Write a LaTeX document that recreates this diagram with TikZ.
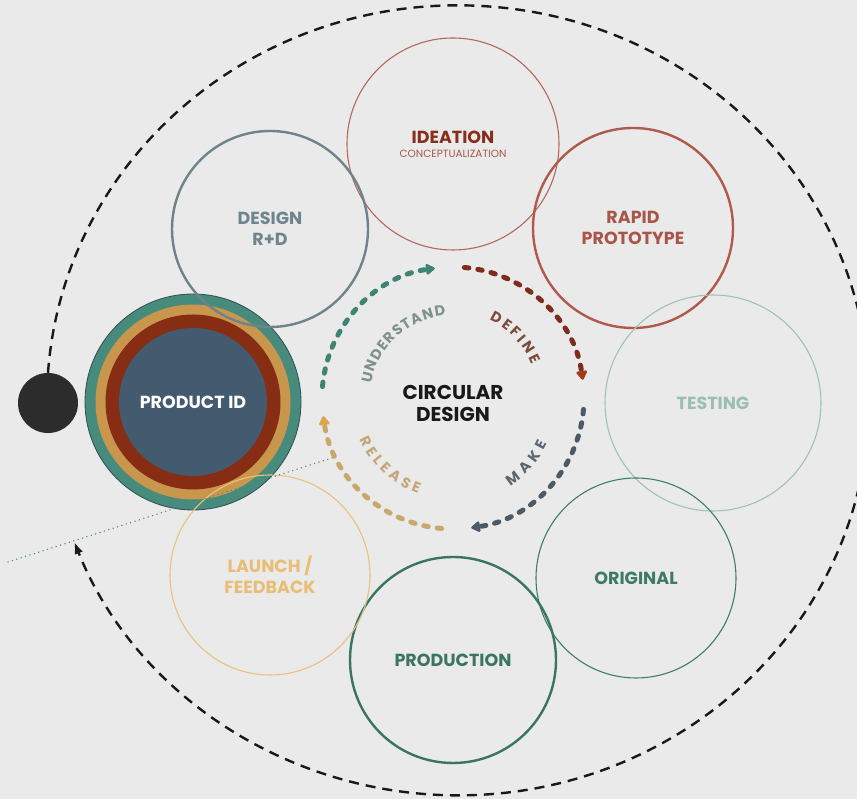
\documentclass[tikz,border=0pt]{standalone}
\usepackage{fontspec}
\setmainfont{Poppins}
\usetikzlibrary{positioning, arrows.meta, decorations.text}
\definecolor{bg}{HTML}{EAEAEA}
\definecolor{ideaedge}{HTML}{B0685C}
\definecolor{ideatext}{HTML}{8A2E1B}
\definecolor{ideasub}{HTML}{A45A4A}
\definecolor{protoedge}{HTML}{B05A4E}
\definecolor{prototext}{HTML}{A8564A}
\definecolor{testedge}{HTML}{9EC3B5}
\definecolor{testtext}{HTML}{9ABFB0}
\definecolor{origedge}{HTML}{3E7D69}
\definecolor{origtext}{HTML}{3E7A67}
\definecolor{prodedge}{HTML}{3A7562}
\definecolor{launchedge}{HTML}{E9C27D}
\definecolor{launchtext}{HTML}{E8BE75}
\definecolor{designedge}{HTML}{6F838B}
\definecolor{designtext}{HTML}{6F858D}
\definecolor{pidteal}{HTML}{478B7C}
\definecolor{pidgold}{HTML}{C9964D}
\definecolor{pidred}{HTML}{872D13}
\definecolor{pidblue}{HTML}{445A6E}
\definecolor{pidedge}{HTML}{2F4E58}
\definecolor{dotcol}{HTML}{2C2C2C}
\definecolor{feedcol}{HTML}{4F8D7F}
\definecolor{understand}{HTML}{3F8472}
\definecolor{define}{HTML}{7C2D1E}
\definecolor{definetip}{HTML}{A33B18}
\definecolor{make}{HTML}{4C5A68}
\definecolor{release}{HTML}{C9A86C}
\definecolor{releasetip}{HTML}{D7A94E}
\definecolor{understandtxt}{HTML}{7F918A}
\definecolor{definetxt}{HTML}{7D4A3E}
\definecolor{maketxt}{HTML}{5C6670}
\definecolor{releasetxt}{HTML}{C4A67B}

\begin{document}
\begin{tikzpicture}[x=1pt, y=1pt,
    stage/.style={circle, draw, inner sep=0pt, minimum size=#1, align=center, font=\bfseries\fontsize{17.5}{21}\selectfont},
    thinring/.style={line width=1.1pt},
    thickring/.style={line width=2.4pt},
    disc/.style={circle, inner sep=0pt, minimum size=#1},
    ringdash/.style={line width=5pt, line cap=round, dash pattern=on 4.5pt off 9pt},
    ringtext/.style={decorate, decoration={text along path, text align={fit to path}, text color=#1}},
    loopline/.style={line width=2.4pt, draw=black!90, dash pattern=on 10pt off 7pt, -{Latex[length=12pt, width=9pt]}},
    feedback/.style={draw=feedcol, line width=1.5pt, line cap=round, dash pattern=on 0.1pt off 4.5pt}
  ]
  \newcommand\ringfont{\bfseries\fontsize{14.5}{14.5}\selectfont}
  \fill[bg] (0,0) rectangle (857,799);
  \useasboundingbox (0,0) rectangle (857,799);

  \node[disc=216pt, fill=pidteal, draw=pidedge, line width=0.8pt] (productid) at (193,397) {};
  \node[disc=195pt, fill=pidgold] at (productid) {};
  \node[disc=175pt, fill=pidred] at (productid) {};
  \node[disc=148pt, fill=pidblue, text=white, font=\bfseries\fontsize{17.5}{17.5}\selectfont] at (productid) {PRODUCT ID};

  \node[stage=212pt, thinring, draw=ideaedge, text=ideatext] (ideation) at (453,655) {IDEATION\\[-7pt]{\mdseries\fontsize{10.5}{10.5}\selectfont\color{ideasub}CONCEPTUALIZATION}};
  \node[stage=200pt, thickring, draw=protoedge, text=prototext] (prototype) at (633,571) {RAPID\\PROTOTYPE};
  \node[stage=216pt, thinring, draw=testedge, text=testtext] (testing) at (713,396) {TESTING};
  \node[stage=200pt, thinring, draw=origedge, text=origtext] (original) at (636,221) {ORIGINAL};
  \node[stage=206pt, thickring, draw=prodedge, text=prodedge] (production) at (453,139) {PRODUCTION};
  \node[stage=200pt, thinring, draw=launchedge, text=launchtext] (launch) at (270,224) {LAUNCH /\\FEEDBACK};
  \node[stage=196pt, thickring, draw=designedge, text=designtext] (design) at (270,570) {DESIGN\\R+D};

  \coordinate (feedin) at (8,237);
  \coordinate (feedout) at (335,342);
  \draw[feedback] (feedin) -- (feedout);

  \node[disc=60pt, fill=dotcol] (start) at (48,396) {};
  \draw[loopline] (start.north) arc[start angle=176, end angle=-159, x radius=411pt, y radius=395pt];

  \coordinate (ring) at (453,401);
  \node[font=\bfseries\fontsize{20}{22}\selectfont, align=center, text=black!90] (title) at (453,396) {CIRCULAR\\DESIGN};
  \begin{scope}[shift={(ring)}]
    \foreach \a/\col/\tip in {175/understand/understand, 85/define/definetip, -5/make/make, -95/release/releasetip}
      \draw[ringdash, draw=\col, -{Triangle[round, length=10pt, width=12pt, fill=\tip, color=\tip]}] (\a:131pt) arc[start angle=\a, end angle=\a-77, radius=131pt];
    \path[ringtext=understandtxt, decoration={text={|\ringfont|UNDERSTAND}}] (170:83pt) arc[start angle=170, end angle=95, radius=83pt];
    \path[ringtext=definetxt, decoration={text={|\ringfont|DEFINE}}] (65:86pt) arc[start angle=65, end angle=23, radius=86pt];
    \path[ringtext=maketxt, decoration={text={|\ringfont|MAKE}}] (-57:105pt) arc[start angle=-57, end angle=-26, radius=105pt];
    \path[ringtext=releasetxt, decoration={text={|\ringfont|RELEASE}}] (-156:102pt) arc[start angle=-156, end angle=-110, radius=102pt];
  \end{scope}
\end{tikzpicture}
\end{document}
